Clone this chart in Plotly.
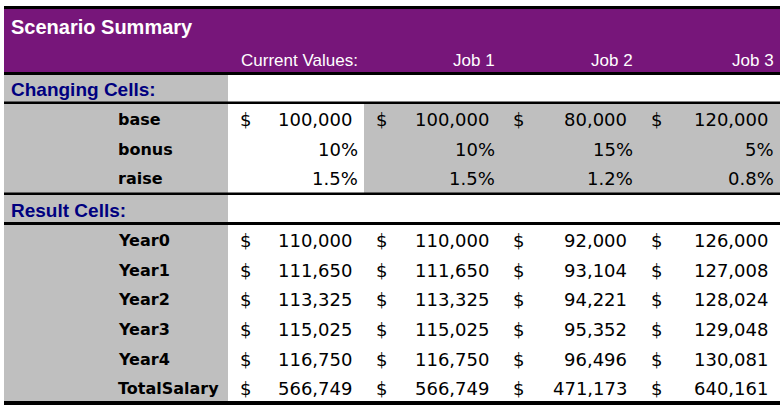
import plotly.graph_objects as go

# ---------------- data ----------------
title = "Scenario Summary"
scenarios = ["Current Values:", "Job 1", "Job 2", "Job 3"]
changing_header = "Changing Cells:"
result_header = "Result Cells:"
changing_labels = ["base", "bonus", "raise"]
base = [100000, 100000, 80000, 120000]
bonus = [0.10, 0.10, 0.15, 0.05]
raise_ = [0.015, 0.015, 0.012, 0.008]
result_labels = ["Year0", "Year1", "Year2", "Year3", "Year4", "TotalSalary"]
year0 = [110000, 110000, 92000, 126000]
year1 = [111650, 111650, 93104, 127008]
year2 = [113325, 113325, 94221, 128024]
year3 = [115025, 115025, 95352, 129048]
year4 = [116750, 116750, 96496, 130081]
total_salary = [566749, 566749, 471173, 640161]

# ---------------- layout geometry (pixel-based axes) ----------------
W, H = 782, 408
LEFT, RIGHT = 4, 780
col_edges = [228, 364, 501, 639, 780]          # value column boundaries
label_x = 117
PURPLE = "#77167A"
GREY = "#BFBFBF"
NAVY = "#00007F"

# row bands (top, bottom)
title_row = (9, 43)
head_row = (43, 72.5)
chg_row = (75, 102)
chg_rows = [(104, 134), (134, 164), (164, 193)]
res_row = (195, 222)
res_rows = [(225, 255), (255, 285), (285, 314), (314, 344), (344, 374), (374, 402)]

DATA_FONT = "DejaVu Sans"
HEAD_FONT = "Liberation Sans"

fig = go.Figure()
fig.add_trace(go.Scatter(x=[0, W], y=[0, H], mode="markers",
                         marker=dict(opacity=0), hoverinfo="skip", showlegend=False))

shapes = []
def rect(x0, x1, y0, y1, color):
    shapes.append(dict(type="rect", xref="x", yref="y", x0=x0, x1=x1, y0=y0, y1=y1,
                       fillcolor=color, line=dict(width=0), layer="below"))

# purple header
rect(LEFT, RIGHT, title_row[0], head_row[1], PURPLE)
# changing header row
rect(LEFT, col_edges[0], chg_row[0], chg_row[1], GREY)
# changing rows: label grey, CV white, jobs grey
rect(LEFT, col_edges[0], chg_rows[0][0], chg_rows[-1][1], GREY)
rect(col_edges[1], RIGHT, chg_rows[0][0], chg_rows[-1][1], GREY)
# result header
rect(LEFT, col_edges[0], res_row[0], res_row[1], GREY)
rect(LEFT, col_edges[0], res_rows[0][0], res_rows[-1][1], GREY)

# borders
def hline(y0, y1):
    rect(LEFT, RIGHT, y0, y1, "black")
hline(6, 9)
hline(72, 75)
hline(101.5, 104)
hline(192.5, 195)
hline(222, 225)
hline(401, 405)

annotations = []
def text(x, y, s, anchor, size, color="black", family=DATA_FONT, bold=False):
    if bold:
        s = "<b>" + s + "</b>"
    annotations.append(dict(x=x, y=y, xref="x", yref="y", text=s, showarrow=False,
                            xanchor=anchor, yanchor="middle", borderpad=0,
                            font=dict(family=family, size=size, color=color)))

def mid(r):
    return (r[0] + r[1]) / 2

# title and column headers
text(10, 27, title, "left", 20, "white", HEAD_FONT, True)
for i, s in enumerate(scenarios):
    text(col_edges[i + 1] - 5, 60.5, s, "right", 17, "white", HEAD_FONT)

text(10, 89, changing_header, "left", 19, NAVY, HEAD_FONT, True)
text(10, 210, result_header, "left", 19, NAVY, HEAD_FONT, True)

def money(v):
    return f"{v:,.0f}"

def put_money_row(yc, vals):
    for i, v in enumerate(vals):
        text(col_edges[i] + 11, yc, "$", "left", 18)
        text(col_edges[i + 1] - 11, yc, money(v), "right", 18)

def put_pct_row(yc, vals, dec):
    for i, v in enumerate(vals):
        text(col_edges[i + 1] - 5, yc, f"{v * 100:.{dec}f}%", "right", 18)

ycs = [mid(r) for r in chg_rows]
for lab, yc in zip(changing_labels, ycs):
    text(label_x, yc, lab, "left", 16, bold=True)
put_money_row(ycs[0], base)
put_pct_row(ycs[1], bonus, 0)
put_pct_row(ycs[2], raise_, 1)

res_vals = [year0, year1, year2, year3, year4, total_salary]
for lab, r, vals in zip(result_labels, res_rows, res_vals):
    yc = mid(r)
    text(label_x, yc, lab, "left", 16, bold=True)
    put_money_row(yc, vals)

fig.update_layout(
    width=W, height=H, margin=dict(l=0, r=0, t=0, b=0),
    paper_bgcolor="white", plot_bgcolor="white",
    xaxis=dict(range=[0, W], visible=False, fixedrange=True),
    yaxis=dict(range=[H, 0], visible=False, fixedrange=True),
    shapes=shapes, annotations=annotations, showlegend=False,
)
fig.write_html("out.html", config={"displayModeBar": False},
               post_script="document.body.style.margin='0';document.body.style.overflow='hidden';")
